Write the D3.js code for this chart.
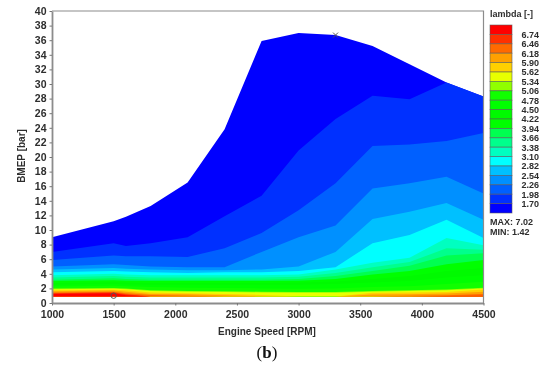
<!DOCTYPE html>
<html><head><meta charset="utf-8">
<script src="https://cdn.jsdelivr.net/npm/d3@7"></script>
<style>html,body{margin:0;padding:0;background:#fff}svg{display:block;filter:blur(0.45px)}</style>
</head><body><div id="c"></div>
<script>
const rpm=[1000,1500,1600,1800,2100,2400,2700,3000,3300,3600,3900,4200,4500];
const fullLoad=[9.0,11.2,11.8,13.3,16.5,23.8,35.9,37.0,36.7,35.2,32.7,30.2,28.3];
const floorBmep=[0.9,0.9,0.9,0.9,0.9,0.9,0.9,0.9,0.9,0.9,0.9,0.9,0.9];
const L170=[7.0,8.2,7.8,8.2,9.0,11.9,14.7,20.9,25.2,28.4,27.9,30.2,28.3];
const L198=[5.9,6.5,6.4,6.4,6.3,7.5,9.6,12.7,16.4,21.5,21.7,22.2,23.3];
const L226=[5.0,5.3,5.2,5.0,4.9,4.9,7.0,9.0,10.6,15.7,16.4,17.3,15.0];
const L254=[4.6,4.8,4.7,4.6,4.5,4.5,4.6,5.0,7.0,11.5,12.5,13.7,11.4];
const L282=[4.2,4.4,4.3,4.2,4.1,4.2,4.2,4.4,4.9,8.2,9.3,11.4,8.9];
const L310=[3.8,4.0,3.9,3.8,3.8,3.8,3.8,3.9,4.6,5.5,6.2,8.9,7.9];
const L338=[3.5,3.7,3.6,3.5,3.5,3.5,3.5,3.6,4.1,4.9,5.6,7.5,7.3];
const L366=[3.2,3.4,3.3,3.2,3.2,3.2,3.2,3.3,3.7,4.4,5.1,6.5,6.8];
const L394=[3.0,3.1,3.05,3.0,3.0,3.0,3.0,3.05,3.3,3.9,4.4,5.3,5.9];
const L422=[2.75,2.85,2.8,2.75,2.75,2.75,2.75,2.8,2.95,3.3,3.7,4.4,4.8];
const L450=[2.5,2.6,2.55,2.5,2.5,2.5,2.5,2.5,2.6,2.8,3.0,3.5,3.8];
const L478=[2.25,2.35,2.3,2.2,2.1,2.05,2.0,1.95,2.0,2.2,2.3,2.6,2.9];
const L506=[2.0,2.05,2.0,1.75,1.65,1.6,1.55,1.5,1.5,1.65,1.75,1.85,2.1];
const L534=[1.9,1.95,1.9,1.65,1.55,1.5,1.45,1.4,1.4,1.55,1.65,1.75,2.0];
const L562=[1.75,1.8,1.75,1.45,1.35,1.25,1.1,0.9,0.9,1.4,1.45,1.5,1.85];
const L590=[1.6,1.7,1.55,1.25,1.2,1.05,0.9,0.9,0.9,1.15,1.2,1.3,1.55];
const L618=[1.45,1.55,1.35,1.1,1.0,0.9,0.9,0.9,0.9,0.9,1.0,1.05,1.25];
const L646=[1.35,1.45,1.2,0.9,0.9,0.9,0.9,0.9,0.9,0.9,0.9,0.95,1.0];
const L674=[1.25,1.35,1.05,0.9,0.9,0.9,0.9,0.9,0.9,0.9,0.9,0.9,0.9];
const levels=[fullLoad,L170,L198,L226,L254,L282,L310,L338,L366,L394,L422,L450,L478,L506,L534,L562,L590,L618,L646,L674];
const bandColors=["#0000ff","#0030ff","#0060ff","#0090ff","#00c0ff","#00ffff","#00ffc0","#00ff8c","#00ff50","#00ff00","#00fa00","#00ff00","#10ff00","#90ff00","#e8ff00","#ffd000","#ffa000","#ff6a00","#ff3000","#ff0000"];
const legendLabels=["6.74","6.46","6.18","5.90","5.62","5.34","5.06","4.78","4.50","4.22","3.94","3.66","3.38","3.10","2.82","2.54","2.26","1.98","1.70"];
const yTicks=d3.range(0,41,2);
const xTicks=[1000,1500,2000,2500,3000,3500,4000,4500];
const maxMark=[3300,36.7], minMark=[1500,1.0];

const svg=d3.select("#c").append("svg").attr("width",550).attr("height",374);
const x=d3.scaleLinear().domain([1000,4500]).range([52,483.5]);
const y=d3.scaleLinear().domain([0,40]).range([303,11]);
const font="'Liberation Sans',Arial,sans-serif", ink="#2e2e2e";

const area=d3.area().x((d,i)=>x(rpm[i])).y0((d,i)=>y(floorBmep[i])).y1(d=>y(d));
svg.append("g").selectAll("path").data(levels).join("path")
  .attr("d",d=>area(d)).attr("fill",(d,i)=>bandColors[i]);

svg.append("path").attr("d",`M${x(1000)},${y(40)}H${x(4500)}V${y(0)}`).attr("fill","none").attr("stroke","#8c8c8c").attr("stroke-width",1.2);
const ax=svg.append("g").attr("transform",`translate(0,${y(0)})`).call(d3.axisBottom(x).tickValues(xTicks).tickFormat(d3.format("d")).tickSize(2.5).tickSizeOuter(0));
const ay=svg.append("g").attr("transform",`translate(${x(1000)},0)`).call(d3.axisLeft(y).tickValues(yTicks).tickSize(2.5).tickSizeOuter(0));
[ax,ay].forEach(g=>{
  g.selectAll("path").attr("stroke","#8c8c8c").attr("stroke-width",1.8);
  g.selectAll("line").attr("stroke","#777");
  g.selectAll("text").attr("font-family",font).attr("font-weight","bold").attr("font-size",10.5).attr("fill",ink);
});
ax.selectAll("text").attr("y",7.5);
ay.selectAll("text").attr("x",-5.5);

const txt=(s,px,py,size,anchor)=>svg.append("text").attr("x",px).attr("y",py).attr("font-family",font).attr("font-weight","bold").attr("font-size",size).attr("fill",ink).attr("text-anchor",anchor||"start").text(s);
svg.append("text").attr("transform","translate(25,156) rotate(-90)").attr("text-anchor","middle").attr("font-family",font).attr("font-weight","bold").attr("font-size",10).attr("fill",ink).text("BMEP [bar]");
txt("Engine Speed [RPM]",267,335,10,"middle");
const cap=svg.append("text").attr("x",267).attr("y",358).attr("text-anchor","middle").attr("font-family","'Liberation Serif',serif").attr("font-size",17).attr("fill","#111");
cap.append("tspan").text("(");cap.append("tspan").attr("font-weight","bold").text("b");cap.append("tspan").text(")");

const m=x(maxMark[0]),n=y(maxMark[1]);
svg.append("path").attr("d",`M${m-2.5},${n-2.5}L${m+2.5},${n+2.5}M${m-2.5},${n+2.5}L${m+2.5},${n-2.5}`).attr("stroke","#555").attr("fill","none");
svg.append("circle").attr("cx",x(minMark[0])).attr("cy",y(minMark[1])).attr("r",2.7).attr("fill","none").attr("stroke","#555");

txt("lambda [-]",490,17,9,"start");
const lg=d3.scaleBand().domain(d3.range(20)).range([25,213]);
svg.append("g").selectAll("rect").data(bandColors.slice().reverse()).join("rect")
  .attr("x",490).attr("width",22).attr("y",(d,i)=>lg(i)).attr("height",lg.bandwidth())
  .attr("fill",d=>d).attr("stroke","#5a5a5a").attr("stroke-opacity",.7).attr("stroke-width",.8);
svg.append("g").selectAll("text").data(legendLabels).join("text")
  .attr("x",539).attr("y",(d,i)=>lg(i+1)+3.4).attr("text-anchor","end")
  .attr("font-family",font).attr("font-weight","bold").attr("font-size",9).attr("fill",ink).text(d=>d);
txt("MAX: 7.02",490,225,9);
txt("MIN: 1.42",490,234.5,9);
</script></body></html>
